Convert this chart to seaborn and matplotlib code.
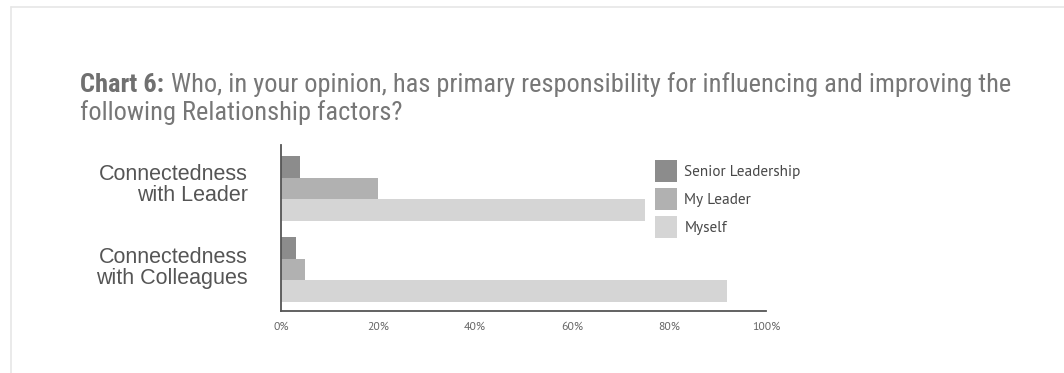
import matplotlib
matplotlib.use("Agg")
import matplotlib.pyplot as plt
from matplotlib import font_manager
from matplotlib.lines import Line2D
from matplotlib.transforms import ScaledTranslation
import seaborn as sns
import pandas as pd

categories = ["Connectedness\nwith Leader", "Connectedness\nwith Colleagues"]
series = ["Senior Leadership", "My Leader", "Myself"]
senior_leadership = [4, 3]
my_leader = [20, 5]
myself = [75, 92]
x_ticks = [0, 20, 40, 60, 80, 100]
x_tick_labels = ["0%", "20%", "40%", "60%", "80%", "100%"]
colors = ["#8c8c8c", "#b1b1b1", "#d5d5d5"]
title_bold = "Chart 6:"
title_line1 = "Who, in your opinion, has primary responsibility for influencing and improving the"
title_line2 = "following Relationship factors?"

rows = []
for s, vals in zip(series, [senior_leadership, my_leader, myself]):
    for c, v in zip(categories, vals):
        rows.append({"category": c, "series": s, "value": v})
df = pd.DataFrame(rows)

available = {f.name for f in font_manager.fontManager.ttflist}


def pick(*cands):
    for c in cands:
        if c in available:
            return c
    return "DejaVu Sans"


cond_font = pick("Roboto Condensed", "Archivo Narrow", "PT Sans Narrow",
                 "Liberation Sans Narrow", "Liberation Sans")
myriad_font = pick("PT Sans", "Open Sans", "Liberation Sans")
arial_font = pick("Liberation Sans", "Arimo", "DejaVu Sans")

sns.set_style("white")
plt.rcParams["font.family"] = [arial_font, "DejaVu Sans"]

W, H = 1064, 373
fig = plt.figure(figsize=(W / 100, H / 100), dpi=100)
ax = fig.add_axes([281 / W, 62 / H, 485 / W, 166 / H])

sns.barplot(data=df, x="value", y="category", hue="series", order=categories,
            hue_order=series, palette=colors, saturation=1, width=0.8,
            linewidth=0, ax=ax, orient="h")

ax.set_xlim(0, 100)
ax.set_ylim(1.51, -0.535)
ax.set_xlabel("")
ax.set_ylabel("")
ax.set_xticks(x_ticks)
ax.set_xticklabels(x_tick_labels, fontsize=8.5, color="#666666", family=[myriad_font, "DejaVu Sans"])
ax.tick_params(axis="x", direction="in", length=3, width=1.3, color="#555555", pad=8)
ax.tick_params(axis="y", length=0, pad=24)
for i, lbl in enumerate(ax.get_yticklabels()):
    lbl.set_fontsize(15.5)
    lbl.set_color("#555555")
    lbl.set_linespacing(1.0)
    lbl.set_horizontalalignment("right")
    up = 6 if i == 0 else 4
    lbl.set_transform(lbl.get_transform() + ScaledTranslation(0, up / 100, fig.dpi_scale_trans))

for side in ["top", "right"]:
    ax.spines[side].set_visible(False)
for side in ["left", "bottom"]:
    ax.spines[side].set_color("#555555")
    ax.spines[side].set_linewidth(1.3)

handles, labels = ax.get_legend_handles_labels()
leg = ax.legend(handles, labels, loc="upper left", bbox_to_anchor=(0.742, 0.990),
                frameon=False, handlelength=1.44, handleheight=1.84,
                labelspacing=0.38, handletextpad=0.5, labelcolor="#484848",
                prop={"family": [myriad_font, "DejaVu Sans"], "size": 11})

# title: bold lead-in followed by regular text, sized to span the reference width
title_family = [cond_font, "DejaVu Sans"]
fs = 17.0
renderer = fig.canvas.get_renderer()
base1 = 1 - 92 / H
for _ in range(4):
    tb = fig.text(80 / W, base1, title_bold, fontsize=fs, fontweight="bold",
                  color="#707070", va="baseline", ha="left", family=title_family)
    bb = tb.get_window_extent(renderer)
    space = fs * 100 / 72 * 0.25
    t1 = fig.text((bb.x1 + space) / W, base1, title_line1, fontsize=fs,
                  color="#777777", va="baseline", ha="left", family=title_family)
    b1 = t1.get_window_extent(renderer)
    total = b1.x1 - bb.x0
    target = 1008 - 80
    if abs(total - target) < 3:
        break
    tb.remove()
    t1.remove()
    fs = fs * target / total
fig.text(80 / W, 1 - 120 / H, title_line2, fontsize=fs, color="#777777",
         va="baseline", ha="left", family=title_family)

fig.add_artist(Line2D([11 / W, 1], [1 - 7 / H, 1 - 7 / H], color="#e6e6e6", lw=1.2))
fig.add_artist(Line2D([11 / W, 11 / W], [0, 1 - 7 / H], color="#e6e6e6", lw=1.2))

fig.savefig("out.png", dpi=100)
